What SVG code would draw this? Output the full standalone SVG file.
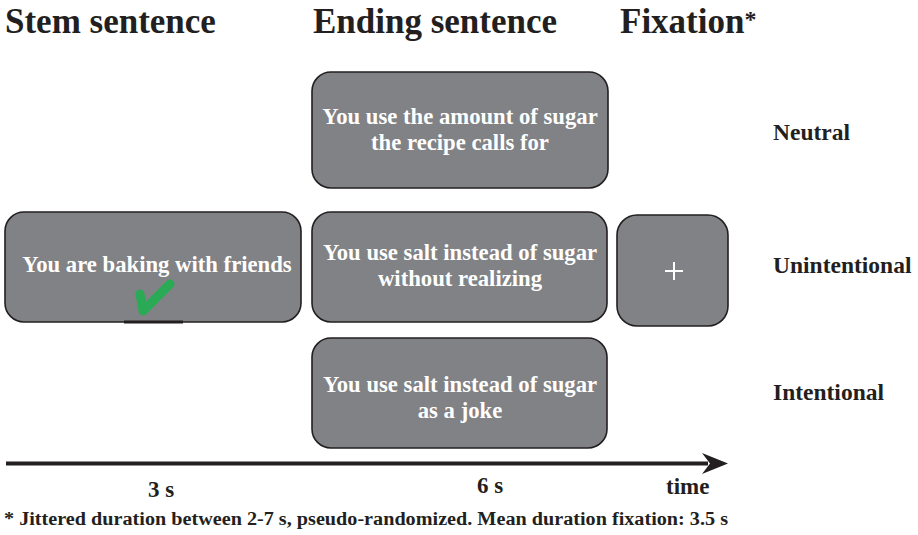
<svg xmlns="http://www.w3.org/2000/svg" width="918" height="535" viewBox="0 0 918 535">
<style>
.box{fill:#808285;stroke:#231f20;stroke-width:1.6}
.bt{font-family:"Liberation Serif",serif;font-weight:bold;font-size:22.7px;fill:#ffffff;text-anchor:middle}
.h{font-family:"Liberation Serif",serif;font-weight:bold;font-size:35px;fill:#231f20}
.lab{font-family:"Liberation Serif",serif;font-weight:bold;font-size:23.5px;fill:#231f20}
.t{font-family:"Liberation Serif",serif;font-weight:bold;font-size:23px;fill:#231f20}
.fn{font-family:"Liberation Serif",serif;font-weight:bold;font-size:18px;fill:#231f20}
</style>
<rect width="918" height="535" fill="#ffffff"/>
<g id="headings">
<text class="h" x="5" y="33">Stem sentence</text>
<text class="h" x="313" y="33">Ending sentence</text>
<text class="h" x="620" y="33">Fixation<tspan font-size="24px" dy="-6">*</tspan></text>
</g>
<g id="stem">
<rect class="box" x="5" y="212" width="296" height="110" rx="19"/>
<text class="bt" x="157" y="272">You are baking with friends</text>
<line x1="124" y1="322" x2="183" y2="322" stroke="#231f20" stroke-width="3"/>
<path d="M140,294 L143,311 L170,284" fill="none" stroke="#2aaa55" stroke-width="9" stroke-linecap="round" stroke-linejoin="round"/>
</g>
<g id="neutral">
<rect class="box" x="312" y="72" width="296" height="116" rx="19"/>
<text class="bt" x="460" y="124">You use the amount of sugar</text>
<text class="bt" x="460" y="150">the recipe calls for</text>
</g>
<g id="unintentional">
<rect class="box" x="312" y="212" width="295" height="110" rx="19"/>
<text class="bt" x="460" y="260">You use salt instead of sugar</text>
<text class="bt" x="460" y="286">without realizing</text>
</g>
<g id="intentional">
<rect class="box" x="312" y="338" width="295" height="110" rx="19"/>
<text class="bt" x="460" y="392">You use salt instead of sugar</text>
<text class="bt" x="460" y="418">as a joke</text>
</g>
<g id="fixation">
<rect class="box" x="617" y="215" width="111" height="111" rx="20"/>
<path d="M665,271 H683 M674,262 V280" stroke="#ffffff" stroke-width="2"/>
</g>
<g id="labels">
<text class="lab" x="773" y="140">Neutral</text>
<text class="lab" x="773" y="273">Unintentional</text>
<text class="lab" x="773" y="400">Intentional</text>
</g>
<g id="connectors">
<line x1="6" y1="463.5" x2="708" y2="463.5" stroke="#231f20" stroke-width="4"/>
<polygon points="702,453 728,463.5 702,474 710,463.5" fill="#231f20"/>
</g>
<g id="timeline">
<text class="t" x="148" y="497">3 s</text>
<text class="t" x="477" y="493">6 s</text>
<text class="t" x="666" y="494">time</text>
<text class="fn" x="4" y="525" textLength="724" lengthAdjust="spacingAndGlyphs">* Jittered duration between 2-7 s, pseudo-randomized. Mean duration fixation: 3.5 s</text>
</g>
</svg>
